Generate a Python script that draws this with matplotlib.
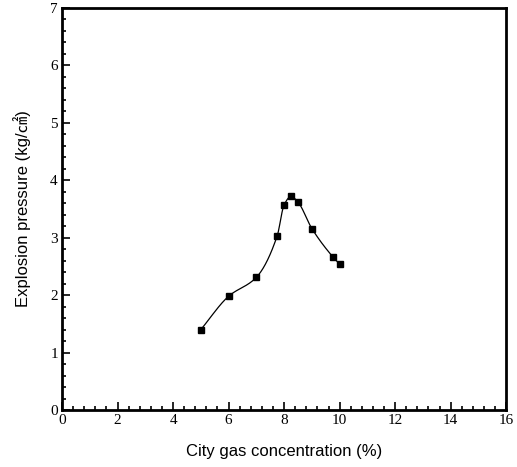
import numpy as np
import matplotlib
matplotlib.use("Agg")
import matplotlib.pyplot as plt
from matplotlib.ticker import MultipleLocator

# data
concentration = [5.0, 6.0, 7.0, 7.75, 8.0, 8.25, 8.5, 9.0, 9.75, 10.0]
pressure = [1.40, 1.98, 2.31, 3.03, 3.57, 3.72, 3.62, 3.16, 2.67, 2.54]

x_label = "City gas concentration (%)"
y_label = "Explosion pressure (kg/㎠)"


def pchip(x, y, xs):
    """Monotone cubic curve through the points (drawing only)."""
    x = np.asarray(x, float)
    y = np.asarray(y, float)
    h = np.diff(x)
    d = np.diff(y) / h
    m = np.zeros_like(y)
    for k in range(1, len(x) - 1):
        if d[k - 1] * d[k] > 0:
            w1 = 2 * h[k] + h[k - 1]
            w2 = h[k] + 2 * h[k - 1]
            m[k] = (w1 + w2) / (w1 / d[k - 1] + w2 / d[k])
    m[0] = d[0]
    m[-1] = d[-1]
    idx = np.clip(np.searchsorted(x, xs) - 1, 0, len(x) - 2)
    t = (xs - x[idx]) / h[idx]
    h00 = 2 * t**3 - 3 * t**2 + 1
    h10 = t**3 - 2 * t**2 + t
    h01 = -2 * t**3 + 3 * t**2
    h11 = t**3 - t**2
    return (h00 * y[idx] + h10 * h[idx] * m[idx]
            + h01 * y[idx + 1] + h11 * h[idx] * m[idx + 1])


fig = plt.figure(figsize=(5.17, 4.67), dpi=100)
ax = fig.add_axes([0.12, 0.122, 0.859, 0.861])

xs = np.linspace(concentration[0], concentration[-1], 300)
ax.plot(xs, pchip(concentration, pressure, xs), color="black", lw=0.9)
ax.plot(concentration, pressure, linestyle="none", marker="s",
        ms=5, color="black")

ax.set_xlim(0, 16)
ax.set_ylim(0, 7)
ax.xaxis.set_major_locator(MultipleLocator(2))
ax.xaxis.set_minor_locator(MultipleLocator(0.4))
ax.yaxis.set_major_locator(MultipleLocator(1))
ax.yaxis.set_minor_locator(MultipleLocator(0.2))
ax.tick_params(which="both", direction="in", top=False, right=False,
               width=1.2, colors="black")
ax.tick_params(which="major", length=6, labelsize=11, pad=3)
ax.tick_params(which="minor", length=3)
for lab in ax.get_xticklabels() + ax.get_yticklabels():
    lab.set_fontfamily("Liberation Serif")
for sp in ax.spines.values():
    sp.set_linewidth(2)

ax.set_xlabel(x_label, fontsize=12, family=["Liberation Sans", "Noto Sans CJK KR"], labelpad=12)
ax.set_ylabel(y_label, fontsize=12, family=["Liberation Sans", "Noto Sans CJK KR"], labelpad=14)

fig.savefig("out.png", dpi=100)
